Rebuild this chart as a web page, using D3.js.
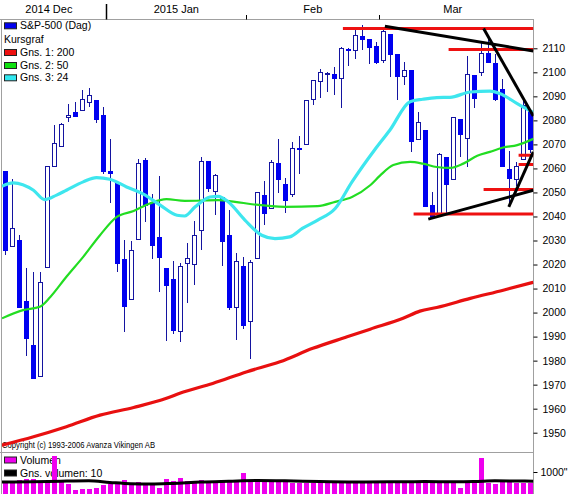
<!DOCTYPE html>
<html><head><meta charset="utf-8">
<script src="https://cdn.jsdelivr.net/npm/d3@7"></script>
<style>
body{margin:0;background:#fff}
svg{display:block}
text{font-family:"Liberation Sans",Arial,sans-serif}
</style>
</head><body>
<svg id="c" width="569" height="494"></svg>
<script>
// ---- Data (S&P-500 daily, 2014-12-10 .. 2015-03-31), index = trading day ----
const dates = ["Dec10","Dec11","Dec12","Dec15","Dec16","Dec17","Dec18","Dec19","Dec22","Dec23","Dec24","Dec26","Dec29","Dec30","Dec31",
"Jan2","Jan5","Jan6","Jan7","Jan8","Jan9","Jan12","Jan13","Jan14","Jan15","Jan16","Jan20","Jan21","Jan22","Jan23","Jan26","Jan27","Jan28","Jan29","Jan30",
"Feb2","Feb3","Feb4","Feb5","Feb6","Feb9","Feb10","Feb11","Feb12","Feb13","Feb17","Feb18","Feb19","Feb20","Feb23","Feb24","Feb25","Feb26","Feb27",
"Mar2","Mar3","Mar4","Mar5","Mar6","Mar9","Mar10","Mar11","Mar12","Mar13","Mar16","Mar17","Mar18","Mar19","Mar20","Mar23","Mar24","Mar25","Mar26","Mar27","Mar30","Mar31"];
const open  = [2058.9,2027.9,2030.4,2005.0,1986.7,1973.8,2019.0,2061.0,2069.3,2081.5,2083.3,2084.3,2087.6,2088.5,2082.1,
2058.9,2054.4,2022.2,2005.6,2030.6,2063.5,2046.1,2031.6,2018.4,2013.8,1992.3,2020.8,2020.2,2034.3,2063.0,2050.4,2047.9,2032.3,2002.5,2019.4,
1996.7,2022.7,2048.9,2043.5,2062.3,2053.5,2049.4,2068.6,2070.0,2088.8,2096.5,2099.2,2099.3,2097.7,2109.8,2109.1,2115.3,2113.9,2110.9,
2105.2,2115.8,2107.7,2098.5,2100.9,2072.3,2076.1,2044.7,2041.1,2064.6,2055.4,2080.6,2072.8,2098.7,2100.0,2108.0,2103.9,2093.1,2059.9,2055.8,2064.1,2084.1];
const high  = [2058.9,2055.5,2032.3,2018.7,2016.9,2016.8,2061.2,2077.9,2078.8,2086.7,2087.6,2092.7,2093.6,2088.5,2085.6,
2072.4,2054.4,2030.3,2029.6,2064.1,2064.4,2049.3,2056.9,2018.4,2021.4,2020.5,2028.9,2038.3,2064.6,2063.0,2057.6,2047.9,2042.5,2024.6,2023.3,
2021.7,2050.3,2054.7,2063.6,2072.4,2056.2,2070.9,2073.5,2088.5,2097.0,2101.3,2100.2,2102.1,2110.6,2110.1,2117.9,2119.6,2113.9,2112.7,
2117.5,2115.8,2107.7,2104.3,2100.9,2083.5,2076.1,2050.1,2066.4,2064.6,2081.4,2080.6,2106.9,2098.7,2112.0,2114.9,2107.6,2097.4,2067.2,2062.8,2089.0,2084.1];
const low   = [2024.3,2027.9,2002.3,1982.3,1972.6,1973.8,2019.0,2061.0,2069.3,2079.8,2081.9,2084.3,2085.8,2079.5,2057.9,
2046.0,2017.3,1992.4,2005.6,2030.6,2038.3,2022.6,2009.0,1988.4,1991.5,1988.1,2004.5,2012.0,2026.4,2050.5,2041.0,2019.9,2001.5,1989.2,1993.4,
1980.9,2022.7,2036.7,2043.5,2050.0,2041.9,2048.6,2058.0,2070.0,2086.7,2089.8,2092.2,2090.8,2085.4,2103.0,2105.9,2109.9,2103.8,2103.8,
2104.5,2098.3,2089.0,2095.2,2067.3,2072.2,2044.2,2039.7,2041.1,2041.2,2055.4,2065.1,2061.2,2085.6,2099.0,2104.4,2088.5,2061.1,2045.5,2053.0,2064.1,2067.0];
const close = [2026.1,2035.3,2002.3,1989.6,1972.7,2012.9,2061.2,2070.7,2078.5,2082.2,2081.9,2088.8,2090.6,2080.4,2058.9,
2058.2,2020.6,2002.6,2025.9,2062.1,2044.8,2028.3,2023.0,2011.3,1992.7,2019.4,2022.6,2032.1,2063.2,2051.8,2057.1,2029.6,2002.2,2021.3,1995.0,
2020.9,2050.0,2041.5,2062.5,2055.5,2046.7,2068.6,2068.5,2088.5,2097.0,2100.3,2099.7,2097.5,2110.3,2109.7,2115.5,2113.9,2110.7,2104.5,
2117.4,2107.8,2098.5,2101.0,2071.3,2079.4,2044.2,2040.2,2066.0,2053.4,2081.2,2074.3,2099.5,2089.3,2108.1,2104.4,2089.0,2061.1,2056.2,2061.0,2086.2,2067.9];

// Moving averages: [trading-day index, value]
const ma200 = [[-0.4,1944.8],[4.1,1948.3],[8.8,1952.5],[13.6,1957.3],[18.4,1960.5],[23.1,1964.3],[25.0,1966.4],[29.7,1970.5],[34.6,1975.4],
[39.3,1979.5],[44.0,1985.1],[48.9,1989.9],[52.2,1993.1],[56.9,1997.6],[59.3,2000.6],[61.7,2002.1],[66.5,2005.9],[71.2,2009.3],[75.5,2012.6]];
const ma50 = [[-0.4,1997.6],[2.6,2001.0],[5.0,2002.4],[6.5,2006.5],[8.8,2014.9],[11.2,2023.2],[13.6,2032.2],[16.0,2039.8],[18.4,2042.3],
[20.7,2045.4],[23.1,2047.2],[25.7,2046.5],[30.5,2046.8],[32.9,2046.1],[35.3,2045.1],[40.0,2044.0],[44.7,2044.3],[47.2,2046.1],[49.6,2048.1],
[52.2,2053.0],[53.6,2057.0],[55.5,2061.4],[57.9,2062.7],[59.7,2062.0],[61.7,2060.6],[63.6,2060.2],[65.5,2062.0],[67.5,2065.3],[69.3,2066.9],
[71.2,2068.7],[73.2,2069.7],[75.5,2072.3]];
const ma24 = [[-0.4,2052.6],[1.2,2054.0],[4.1,2050.9],[5.7,2047.0],[7.4,2048.9],[8.8,2050.9],[11.2,2054.4],[13.1,2056.2],[15.0,2055.5],
[17.4,2052.3],[19.8,2049.3],[22.2,2044.7],[24.6,2040.5],[25.7,2040.2],[27.2,2044.0],[29.3,2048.1],[30.5,2048.4],[31.9,2046.1],[34.3,2038.5],
[36.7,2032.2],[38.6,2030.8],[40.7,2031.5],[42.5,2035.0],[44.7,2038.5],[47.2,2043.3],[49.6,2054.4],[52.9,2068.0],[55.0,2075.9],[57.9,2087.8],
[59.7,2088.8],[61.7,2089.5],[63.6,2089.6],[66.5,2091.8],[69.3,2092.2],[70.7,2091.2],[73.2,2087.0],[75.5,2083.3]];

// Hand-drawn support / resistance lines: [fromIndex, toIndex, value]
const levels = [[48.3,75.5,2118.2],[63.4,75.5,2109.5],[73.4,75.5,2065.5],[73.4,75.5,2061.6],[68.4,75.5,2051.2],[58.4,75.5,2041.0]];
// Hand-drawn trend lines: [i1, v1, i2, v2]
const trends = [[54.3,2119.2,75.5,2108.9],[68.4,2118.2,75.5,2081.8],[60.5,2038.9,75.5,2050.9],[72.0,2044.0,75.5,2066.9]];

// Volume (picture units, tick 1000) and 10-day average
const volume = [488,545,584,641,641,545,450,1789,507,392,124,163,163,201,354,
392,507,584,450,507,411,392,201,641,545,698,545,507,584,450,507,507,584,584,928,
584,584,545,507,545,507,431,469,431,431,469,431,431,545,431,469,469,469,507,
469,469,469,507,545,469,545,545,507,469,507,201,507,469,1694,431,392,507,507,431,469,431];
const volAvg = [[-0.4,500],[4,510],[8,540],[12,560],[15,480],[18,410],[21,395],[24,430],[28,500],[32,540],[36,575],[40,560],
[45,520],[50,500],[55,510],[60,520],[64,510],[67,520],[70,560],[73,550],[75.5,540]];

// Axis text
const priceTicks = d3.range(1950, 2111, 10);
const monthBounds = [-1.9, 14.5, 34.5, 53.5, 74.5];
const monthLabels = ["2014 Dec", "2015 Jan", "Feb", "Mar"];
const legendItems = [["S&P-500 (Dag)","#0000ee"],["Kursgraf",null],["Gns. 1: 200","#ee1010"],["Gns. 2: 50","#10e010"],["Gns. 3: 24","#30e8f0"]];
const volLegend = [["Volumen","#ee00ee"],["Gns. volumen: 10","#000000"]];

// ---- Drawing ----
const svg = d3.select("#c");
svg.append("rect").attr("width",569).attr("height",494).attr("fill","#fff");

const L = 2, R = 533.5, T = 19.5, MB = 452.5, VB = 494;
const x = d3.scaleLinear().domain([0,75]).range([4.8,529.8]);
const y = d3.scaleLinear().domain([1950,2110]).range([432.7,48.3]);
const yv = d3.scaleLinear().domain([0,1000]).range([492,472]);

const defs = svg.append("defs");
defs.append("clipPath").attr("id","cp").append("rect").attr("x",L).attr("y",T+0.5).attr("width",R-L).attr("height",MB-T-1);
defs.append("clipPath").attr("id","cv").append("rect").attr("x",L).attr("y",MB+0.5).attr("width",R-L).attr("height",VB-MB);

// frame
const gray = "#a0a0a0";
svg.append("line").attr("x1",0).attr("x2",R+0.5).attr("y1",T).attr("y2",T).attr("stroke",gray);
svg.append("line").attr("x1",0).attr("x2",R+0.5).attr("y1",MB).attr("y2",MB).attr("stroke",gray);
svg.append("line").attr("x1",1.5).attr("x2",1.5).attr("y1",T).attr("y2",VB).attr("stroke",gray);
svg.append("line").attr("x1",R).attr("x2",R).attr("y1",T).attr("y2",VB).attr("stroke",gray);

// top month axis
monthBounds.slice(1,-1).forEach((b,k)=>{
  const xx = Math.round(x(b))+0.5;
  svg.append("line").attr("x1",xx).attr("x2",xx).attr("y1",k===0?4:15).attr("y2",T)
     .attr("stroke","#000").attr("stroke-width",k===0?1.5:1);
});
monthLabels.forEach((lab,k)=>{
  svg.append("text").attr("x",x((monthBounds[k]+monthBounds[k+1])/2)).attr("y",12.7)
     .attr("text-anchor","middle").attr("font-size",11).attr("fill","#000").text(lab);
});

// right price axis
const ax = svg.append("g").attr("transform",`translate(${R},0)`)
  .call(d3.axisRight(y).tickValues(priceTicks).tickSize(4).tickPadding(5).tickFormat(d3.format("d")));
ax.select(".domain").remove();
ax.selectAll("line").attr("stroke","#000");
ax.selectAll("text").attr("font-size",10.5).attr("fill","#000").attr("font-family","Liberation Sans, Arial, sans-serif");

// legend (main)
legendItems.forEach(([lab,col],k)=>{
  const yy = [29.3,43.3,56,69,81.3][k];
  if(col){
    svg.append("rect").attr("x",4.5).attr("y",yy-6.5).attr("width",12).attr("height",6)
      .attr("fill",col).attr("stroke","#222");
    svg.append("text").attr("x",20).attr("y",yy).attr("font-size",10.5).text(lab);
  } else {
    svg.append("text").attr("x",4).attr("y",yy).attr("font-size",10.5).text(lab);
  }
});

// copyright
svg.append("text").attr("x",2).attr("y",448).attr("font-family","Liberation Serif, Times New Roman, serif")
  .attr("font-size",9.5).attr("textLength",153).attr("lengthAdjust","spacingAndGlyphs").attr("fill","#000")
  .text("Copyright (c) 1993-2006 Avanza Vikingen AB");

const plot = svg.append("g").attr("clip-path","url(#cp)");

// candles
const wickCol = "#1414a0", bodyCol = "#0000f0";
const cg = plot.append("g").attr("shape-rendering","crispEdges");
close.forEach((c,i)=>{
  const cx = Math.round(x(i));
  const o = open[i];
  cg.append("line").attr("x1",cx+0.5).attr("x2",cx+0.5)
    .attr("y1",Math.round(y(high[i]))).attr("y2",Math.round(y(low[i]))+1).attr("stroke",wickCol);
  const top = Math.round(y(Math.max(o,c))), bot = Math.round(y(Math.min(o,c)));
  if(c > o){
    cg.append("rect").attr("x",cx-1.5).attr("y",top+0.5).attr("width",4).attr("height",Math.max(1,bot-top))
      .attr("fill","#fff").attr("stroke",wickCol);
  } else {
    cg.append("rect").attr("x",cx-2).attr("y",top).attr("width",5).attr("height",Math.max(2,bot-top+1))
      .attr("fill",bodyCol);
  }
});

// moving averages
const ln = d3.line().x(d=>x(d[0])).y(d=>y(d[1])).curve(d3.curveMonotoneX);
plot.append("path").attr("d",ln(ma200)).attr("fill","none").attr("stroke","#e81010").attr("stroke-width",3.2);
plot.append("path").attr("d",ln(ma50)).attr("fill","none").attr("stroke","#22dd22").attr("stroke-width",2.2);
plot.append("path").attr("d",ln(ma24)).attr("fill","none").attr("stroke","#3ee6ee").attr("stroke-width",3.2);

// drawn levels and trend lines
levels.forEach(([a,b,v])=>{
  plot.append("line").attr("x1",x(a)).attr("x2",x(b)).attr("y1",y(v)).attr("y2",y(v))
    .attr("stroke","#ee1111").attr("stroke-width",3);
});
trends.forEach(([a,v1,b,v2])=>{
  plot.append("line").attr("x1",x(a)).attr("x2",x(b)).attr("y1",y(v1)).attr("y2",y(v2))
    .attr("stroke","#000").attr("stroke-width",3);
});

// volume panel
volLegend.forEach(([lab,col],k)=>{
  const yy = [463.5,476.5][k];
  svg.append("rect").attr("x",4.5).attr("y",yy-6.5).attr("width",12).attr("height",6)
    .attr("fill",col).attr("stroke","#222");
  svg.append("text").attr("x",20).attr("y",yy).attr("font-size",10.5).text(lab);
});
const vg = svg.append("g").attr("clip-path","url(#cv)").attr("shape-rendering","crispEdges");
volume.forEach((v,i)=>{
  const cx = Math.round(x(i));
  const top = Math.round(yv(v));
  vg.append("rect").attr("x",cx-2).attr("y",top).attr("width",5).attr("height",VB-top).attr("fill","#ee00ee");
});
const lv = d3.line().x(d=>x(d[0])).y(d=>yv(d[1])).curve(d3.curveMonotoneX);
svg.append("g").attr("clip-path","url(#cv)").append("path").attr("d",lv(volAvg))
  .attr("fill","none").attr("stroke","#000").attr("stroke-width",3);

const vax = svg.append("g").attr("transform",`translate(${R},0)`)
  .call(d3.axisRight(yv).tickValues([1000]).tickSize(4).tickPadding(3).tickFormat(()=>'1000"'));
vax.select(".domain").remove();
vax.selectAll("line").attr("stroke","#000");
vax.selectAll("text").attr("font-size",10.5).attr("fill","#000").attr("font-family","Liberation Sans, Arial, sans-serif");
</script>
</body></html>
